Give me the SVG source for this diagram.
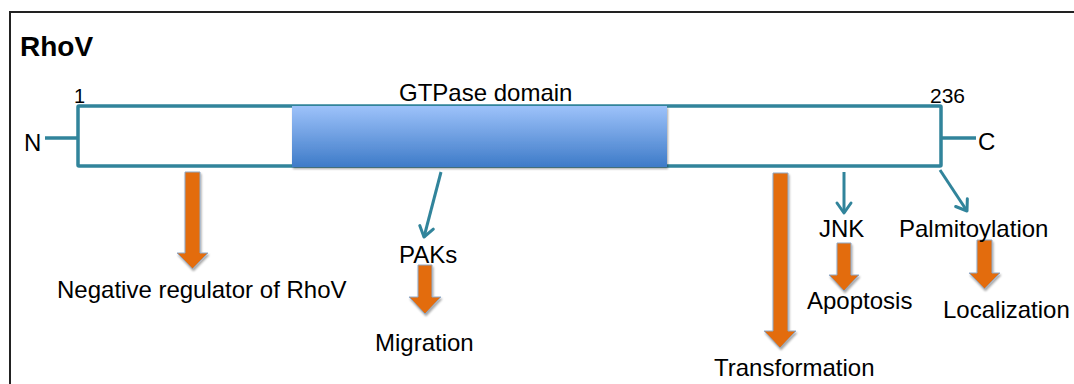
<svg xmlns="http://www.w3.org/2000/svg" width="1074" height="384" viewBox="0 0 1074 384">
  <defs>
    <linearGradient id="gtp" x1="0" y1="0" x2="0" y2="1">
      <stop offset="0" stop-color="#9DC2FA"/>
      <stop offset="1" stop-color="#3E7BC8"/>
    </linearGradient>
    <filter id="shadow" x="-20%" y="-20%" width="140%" height="160%">
      <feDropShadow dx="1" dy="2" stdDeviation="1.2" flood-color="#000" flood-opacity="0.35"/>
    </filter>
    <marker id="vhead" markerUnits="userSpaceOnUse" markerWidth="20" markerHeight="20" viewBox="-12 -10 14 20" refX="0" refY="0" orient="auto">
      <path d="M-10,-7 L0,0 L-10,7" fill="none" stroke="#31849B" stroke-width="3" stroke-linecap="round" stroke-linejoin="round"/>
    </marker>
    <style>
      .lbl { font-family: "Liberation Sans", Arial, sans-serif; font-size: 24px; fill: #000; }
      .num { font-family: "Liberation Sans", Arial, sans-serif; font-size: 21px; fill: #000; }
      .title { font-family: "Liberation Sans", Arial, sans-serif; font-size: 28px; font-weight: bold; fill: #000; }
      .teal { stroke: #31849B; stroke-width: 3.5; fill: none; }
      .tealarrow { stroke: #31849B; stroke-width: 3; fill: none; marker-end: url(#vhead); }
      .block { fill: #E36C09; stroke: #8FA8C6; stroke-width: 1; filter: url(#shadow); }
    </style>
  </defs>

  <rect width="1074" height="384" fill="#fff"/>
  <path d="M10,386 V12 H1076" fill="none" stroke="#222" stroke-width="2"/>

  <g id="title">
    <text class="title" x="20" y="56">RhoV</text>
  </g>

  <g id="protein">
    <line class="teal" x1="45" y1="138" x2="78" y2="138"/>
    <line class="teal" x1="941" y1="138" x2="976" y2="138"/>
    <rect x="78" y="106" width="863" height="60" rx="1" fill="#fff" stroke="#31849B" stroke-width="3.5"/>
    <text class="lbl" x="24" y="151">N</text>
    <text class="lbl" x="978" y="150">C</text>
    <text class="num" x="74" y="103" style="font-size:20px">1</text>
    <text class="num" x="930" y="103">236</text>
  </g>

  <g id="gtpase-domain">
    <rect x="292" y="106" width="375" height="61" fill="url(#gtp)" filter="url(#shadow)"/>
    <text class="lbl" x="399" y="101">GTPase domain</text>
  </g>

  <g id="connectors">
    <line class="tealarrow" x1="441" y1="172" x2="424" y2="237"/>
    <line class="tealarrow" x1="844" y1="172" x2="844" y2="213"/>
    <line class="tealarrow" x1="940" y1="170" x2="967" y2="211"/>
    <path class="block" d="M185,172 H200 V253 H208 L192.5,269 L177,253 H185 Z"/>
    <path class="block" d="M418,265 H432 V297 H441 L425,314 L409,297 H418 Z"/>
    <path class="block" d="M773,173 H788 V331 H796 L780,348 L764,331 H773 Z"/>
    <path class="block" d="M837,243 H851 V275 H859 L844,291 L829,275 H837 Z"/>
    <path class="block" d="M977,240 H992 V273 H1000 L984.5,289 L969,273 H977 Z"/>
  </g>

  <g id="node-negative">
    <text class="lbl" x="57" y="298">Negative regulator of RhoV</text>
  </g>
  <g id="node-paks">
    <text class="lbl" x="399" y="263">PAKs</text>
  </g>
  <g id="node-migration">
    <text class="lbl" x="375" y="351">Migration</text>
  </g>
  <g id="node-transformation">
    <text class="lbl" x="714" y="376">Transformation</text>
  </g>
  <g id="node-jnk">
    <text class="lbl" x="819" y="237">JNK</text>
  </g>
  <g id="node-apoptosis">
    <text class="lbl" x="807" y="309">Apoptosis</text>
  </g>
  <g id="node-palmitoylation">
    <text class="lbl" x="899" y="237">Palmitoylation</text>
  </g>
  <g id="node-localization">
    <text class="lbl" x="943" y="318">Localization</text>
  </g>
</svg>
